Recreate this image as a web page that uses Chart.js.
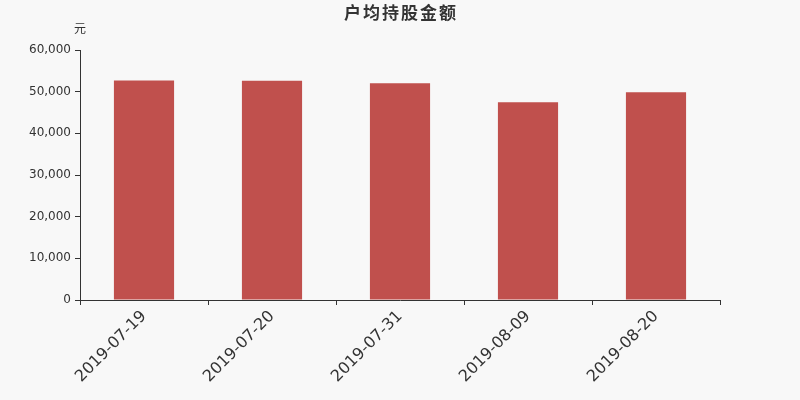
<!DOCTYPE html>
<html>
<head>
<meta charset="utf-8">
<script src="https://cdn.jsdelivr.net/npm/chart.js@4/dist/chart.umd.min.js"></script>
<style>
  html, body { margin: 0; padding: 0; background: #f8f8f8; }
  #wrap { width: 800px; height: 400px; }
</style>
</head>
<body>
<div id="wrap"><canvas id="graph"></canvas></div>
<script>
var dates = ['2019-07-19', '2019-07-20', '2019-07-31', '2019-08-09', '2019-08-20']
var amounts = [52680, 52650, 52000, 47450, 49850]
var titleText = '户均持股金额'
var unitText = '元'

// titre + unité dessinés au-dessus de la zone du graphe
var headerPlugin = {
	id: 'header',
	afterDraw: function (chart) {
		var c = chart.ctx
		c.save()
		c.fillStyle = '#333'
		c.textAlign = 'center'
		c.textBaseline = 'middle'
		c.font = 'bold 17px "Noto Sans CJK SC", "DejaVu Sans", sans-serif'
		c.letterSpacing = '2px'
		c.fillText(titleText, 401, 13)
		c.letterSpacing = '0px'
		c.font = '12px "Noto Sans CJK SC", "DejaVu Sans", sans-serif'
		c.fillText(unitText, chart.chartArea.left, 28)
		c.restore()
	}
}

var ctx = document.getElementById('graph').getContext('2d');
var myChart = new Chart(ctx, {
	type: 'bar',
	data: {
		labels: dates,
		datasets: [{
			label: titleText,
			data: amounts,
			backgroundColor: '#c0504d',
			barPercentage: 0.94,
			categoryPercentage: 0.5
		}]
	},
	plugins: [headerPlugin],
	options: {
		responsive: true,
		maintainAspectRatio: false,
		animation: false,
		layout: {
			padding: { top: 50, right: 80, bottom: 0, left: 0 }
		},
		plugins: {
			legend: { display: false },
			title: { display: false },
			tooltip: { enabled: false }
		},
		scales: {
			x: {
				afterFit: function (scale) { scale.height = 100 },
				grid: {
					drawOnChartArea: false,
					offset: true,
					color: '#333',
					tickLength: 5
				},
				border: { color: '#333' },
				ticks: {
					color: '#333',
					minRotation: 45,
					maxRotation: 45,
					padding: 2,
					font: { family: 'DejaVu Sans', size: 16 }
				}
			},
			y: {
				min: 0,
				max: 60000,
				afterFit: function (scale) { scale.width = 80 },
				grid: {
					drawOnChartArea: false,
					color: '#333',
					tickLength: 5
				},
				border: { color: '#333' },
				ticks: {
					stepSize: 10000,
					color: '#333',
					padding: 4,
					font: { family: 'DejaVu Sans', size: 12 },
					callback: function (v) { return v.toLocaleString('en-US') }
				}
			}
		}
	}
})
</script>
</body>
</html>
